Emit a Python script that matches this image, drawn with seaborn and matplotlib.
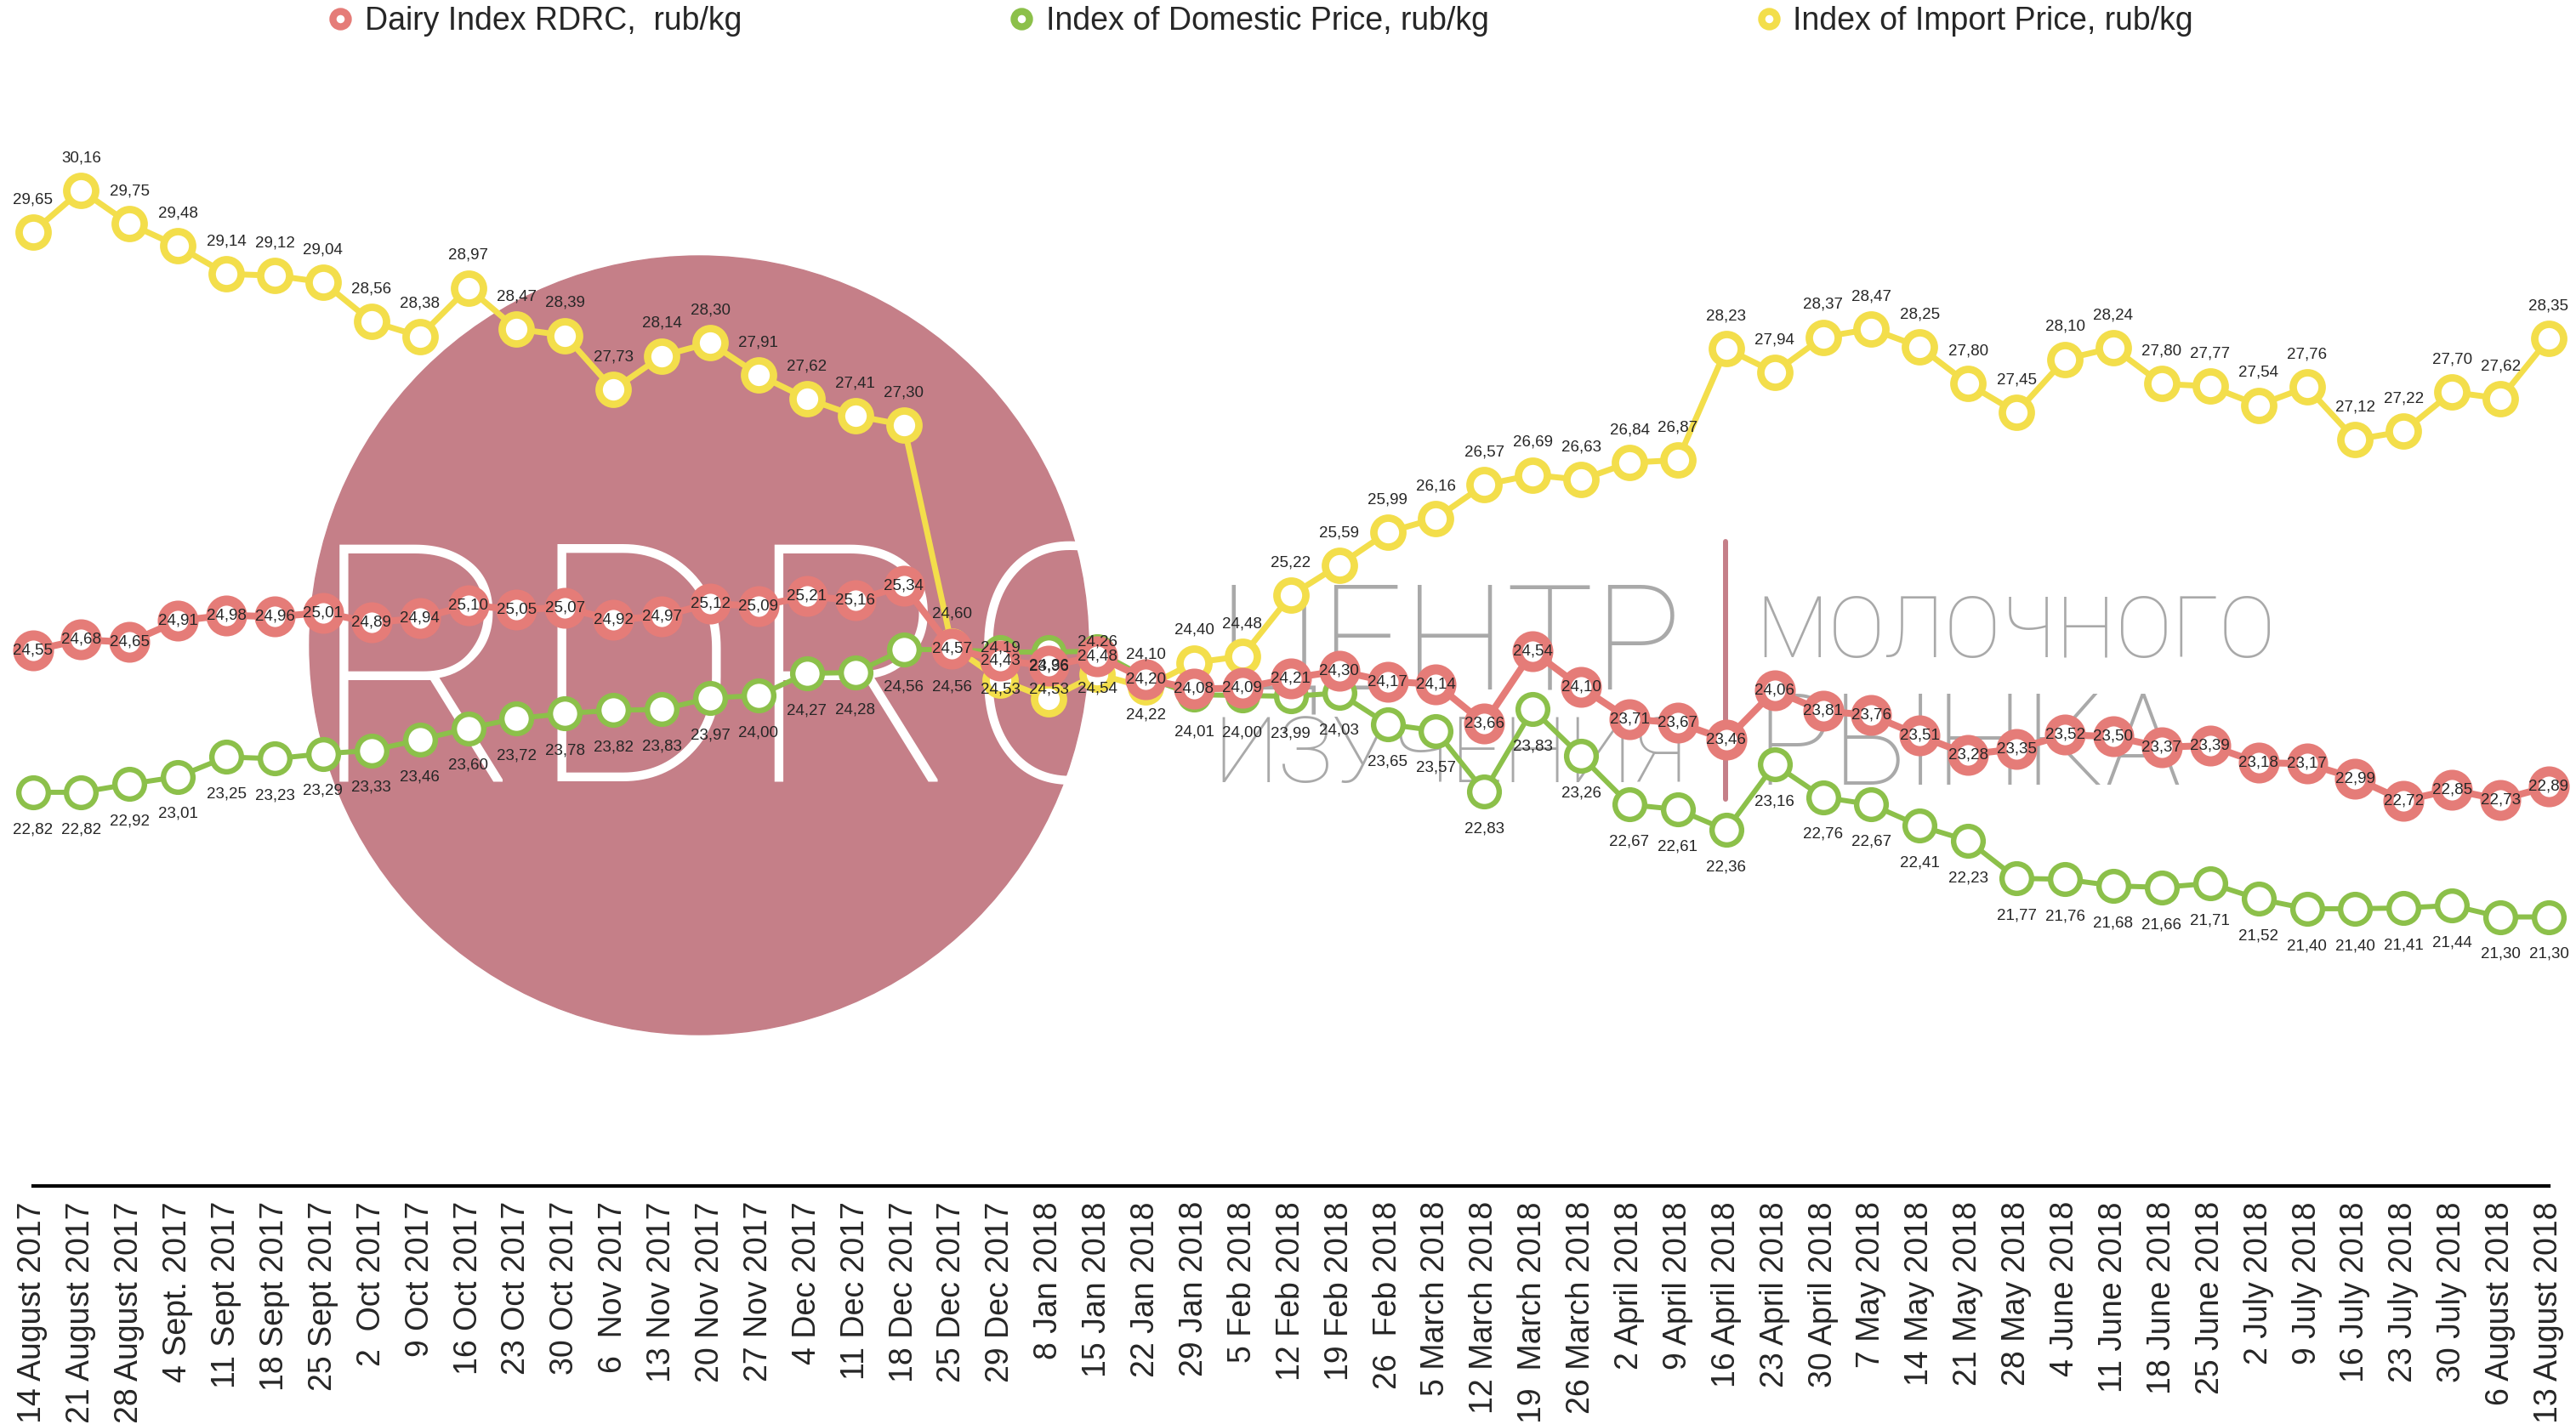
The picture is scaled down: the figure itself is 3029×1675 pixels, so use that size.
import matplotlib
matplotlib.use('Agg')
import matplotlib.pyplot as plt
from matplotlib.lines import Line2D
from matplotlib.patches import Ellipse
import pandas as pd
import seaborn as sns

# %%
dates = ['14 August 2017', '21 August 2017', '28 August 2017', '4 Sept. 2017',
         '11 Sept 2017', '18 Sept 2017', '25 Sept 2017', '2  Oct 2017', '9 Oct 2017',
         '16 Oct 2017', '23 Oct 2017', '30 Oct 2017', '6  Nov 2017', '13 Nov 2017',
         '20 Nov 2017', '27 Nov 2017', '4 Dec 2017', '11 Dec 2017', '18 Dec 2017',
         '25 Dec 2017', '29 Dec 2017', '8 Jan 2018', '15 Jan 2018', '22 Jan 2018',
         '29 Jan 2018', '5 Feb 2018', '12 Feb 2018', '19 Feb 2018', '26  Feb 2018',
         '5 March 2018', '12 March 2018', '19  March 2018', '26 March 2018',
         '2 April 2018', '9 April 2018', '16 April 2018', '23 April 2018',
         '30 April 2018', '7 May 2018', '14 May 2018', '21 May 2018', '28 May 2018',
         '4 June 2018', '11 June 2018', '18 June 2018', '25 June 2018', '2 July 2018',
         '9 July 2018', '16 July 2018', '23 July 2018', '30 July 2018',
         '6 August 2018', '13 August 2018']

dairy = [24.55, 24.68, 24.65, 24.91, 24.98, 24.96, 25.01, 24.89, 24.94, 25.10,
         25.05, 25.07, 24.92, 24.97, 25.12, 25.09, 25.21, 25.16, 25.34, 24.57,
         24.43, 24.36, 24.48, 24.20, 24.08, 24.09, 24.21, 24.30, 24.17, 24.14,
         23.66, 24.54, 24.10, 23.71, 23.67, 23.46, 24.06, 23.81, 23.76, 23.51,
         23.28, 23.35, 23.52, 23.50, 23.37, 23.39, 23.18, 23.17, 22.99, 22.72,
         22.85, 22.73, 22.89]

domestic = [22.82, 22.82, 22.92, 23.01, 23.25, 23.23, 23.29, 23.33, 23.46, 23.60,
            23.72, 23.78, 23.82, 23.83, 23.97, 24.00, 24.27, 24.28, 24.56, 24.56,
            24.53, 24.53, 24.54, 24.22, 24.01, 24.00, 23.99, 24.03, 23.65, 23.57,
            22.83, 23.83, 23.26, 22.67, 22.61, 22.36, 23.16, 22.76, 22.67, 22.41,
            22.23, 21.77, 21.76, 21.68, 21.66, 21.71, 21.52, 21.40, 21.40, 21.41,
            21.44, 21.30, 21.30]

imports = [29.65, 30.16, 29.75, 29.48, 29.14, 29.12, 29.04, 28.56, 28.38, 28.97,
           28.47, 28.39, 27.73, 28.14, 28.30, 27.91, 27.62, 27.41, 27.30, 24.60,
           24.19, 23.96, 24.26, 24.10, 24.40, 24.48, 25.22, 25.59, 25.99, 26.16,
           26.57, 26.69, 26.63, 26.84, 26.87, 28.23, 27.94, 28.37, 28.47, 28.25,
           27.80, 27.45, 28.10, 28.24, 27.80, 27.77, 27.54, 27.76, 27.12, 27.22,
           27.70, 27.62, 28.35]

legend_labels = ['Dairy Index RDRC,  rub/kg', 'Index of Domestic Price, rub/kg',
                 'Index of Import Price, rub/kg']

# %%
RED = '#E57C78'
GREEN = '#8CC04A'
YELLOW = '#F3DE4B'
ROSE = '#C57F88'
GREY = '#A9A9A9'

sns.set_style('white')
plt.rcParams['font.family'] = ['Liberation Sans', 'DejaVu Sans']

W, H = 3029, 1675
fig = plt.figure(figsize=(W / 100, H / 100), dpi=100)
ax = fig.add_axes([38.5 / W, 1 - 1395 / H, (2997 - 38.5) / W, 1395 / H])
ax.patch.set_visible(False)

df = pd.DataFrame({'week': range(len(dates)), 'dairy': dairy,
                   'domestic': domestic, 'imports': imports})

# %%
# logo watermark behind the lines
circle = Ellipse((822 / W, 1 - 759 / H), 2 * 458 / W, 2 * 458 / H,
                 transform=fig.transFigure, color=ROSE, zorder=-2)
fig.add_artist(circle)
rdrc = fig.text(362 / W, 1 - 919 / H, 'RDRC', color='white', fontsize=282,
                family=['Roboto', 'DejaVu Sans'], fontweight=100,
                ha='left', va='baseline', zorder=-1)
rdrc.set_clip_path(circle)

wm = dict(color=GREY, family=['Roboto', 'DejaVu Sans'], fontweight=100,
          va='baseline', zorder=-1)
fig.text(1705 / W, 1 - 811 / H, 'ЦЕНТР', fontsize=124, ha='center', **wm)
fig.text(1705 / W, 1 - 920 / H, 'ИЗУЧЕНИЯ', fontsize=78, ha='center', **wm)
fig.text(2064 / W, 1 - 773 / H, 'МОЛОЧНОГО', fontsize=72, ha='left', **wm)
fig.text(2064 / W, 1 - 923 / H, 'РЫНКА', fontsize=108, ha='left', **wm)
fig.add_artist(Line2D([2029 / W, 2029 / W], [1 - 637 / H, 1 - 940 / H],
                      transform=fig.transFigure, color=ROSE, lw=4.3, zorder=-1))

# %%
series = [
    # column, colour, markersize, edge width, line width, label offset (pt)
    ('domestic', GREEN, 25, 4.6, 4.3, -31.5),
    ('imports', YELLOW, 24.5, 6.3, 5.0, 27.5),
    ('dairy', RED, 26, 8.6, 5.8, 0),
]

for z, (col, color, ms, mew, lw, dy) in enumerate(series):
    sns.lineplot(data=df, x='week', y=col, ax=ax, color=color, linewidth=lw,
                 marker='o', markersize=ms, markeredgewidth=mew,
                 markerfacecolor='white', markeredgecolor=color,
                 clip_on=False, zorder=2 + z * 0.1)
    for i, v in zip(df['week'], df[col]):
        ax.annotate(f'{v:.2f}'.replace('.', ','), (i, v), xytext=(0, dy),
                    textcoords='offset points', ha='center', va='center',
                    fontsize=13.5, zorder=3, annotation_clip=False)

ax.set_xlim(0, 52)
ax.set_ylim(18.02, 32.48)
ax.set_xticks(df['week'])
ax.set_xticklabels(dates, rotation=90, fontsize=27)
ax.tick_params(axis='x', length=0, pad=13)
ax.set_yticks([])
ax.set_xlabel('')
ax.set_ylabel('')
for s in ['left', 'right', 'top']:
    ax.spines[s].set_visible(False)
ax.spines['bottom'].set_color('black')
ax.spines['bottom'].set_linewidth(3)

# %%
handles = [Line2D([], [], marker='o', linestyle='none', markersize=13,
                  markeredgewidth=6, markerfacecolor='white', markeredgecolor=c)
           for c in [RED, GREEN, YELLOW]]
fig.legend(handles, legend_labels, loc='center left',
           bbox_to_anchor=(381 / W, 1 - 25 / H), ncol=3, frameon=False,
           fontsize=27, handlelength=1, handletextpad=0.27, columnspacing=8.27,
           borderpad=0, borderaxespad=0)

fig.savefig('out.png', dpi=100)
